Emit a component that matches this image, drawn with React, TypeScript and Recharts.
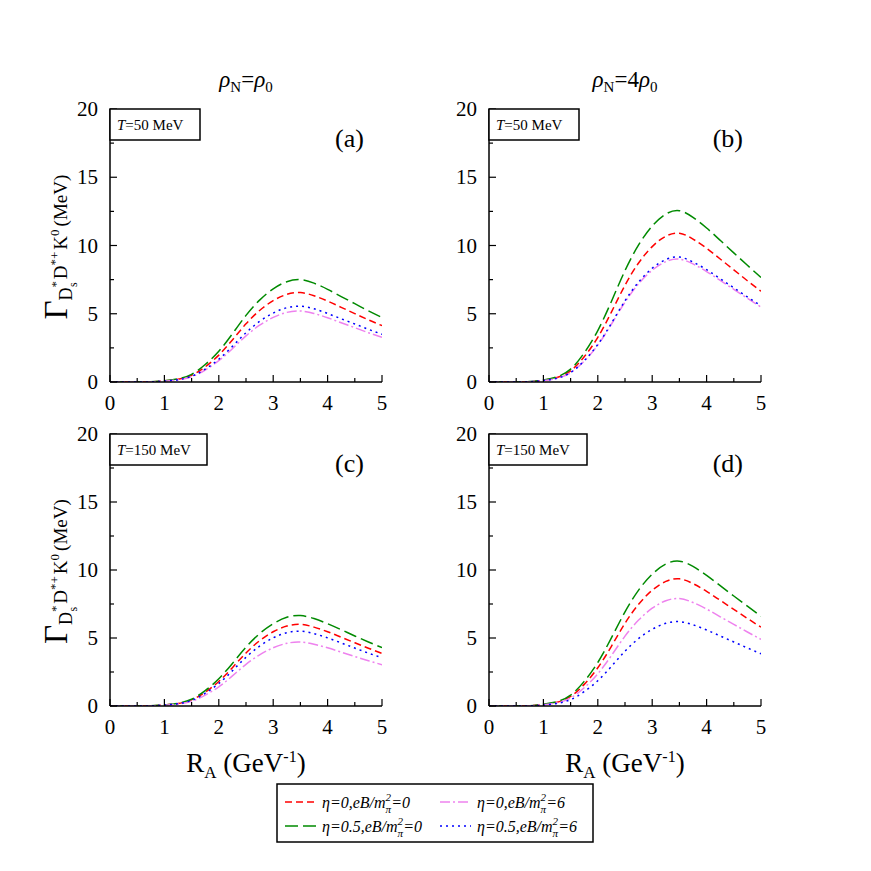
import React from 'react';
import { LineChart, Line, XAxis, YAxis } from 'recharts';

const SERIF = "'Liberation Serif', 'Times New Roman', Times, serif";

// R_A grid (GeV^-1)
const rA = [0, 0.25, 0.5, 0.75, 1, 1.25, 1.5, 1.75, 2, 2.25, 2.5, 2.75, 3, 3.25, 3.5, 3.75, 4, 4.25, 4.5, 4.75, 5];
const xTicks = [0, 0.5, 1, 1.5, 2, 2.5, 3, 3.5, 4, 4.5, 5];
const yTicks = [0, 2.5, 5, 7.5, 10, 12.5, 15, 17.5, 20];

// (a) rho_N = rho_0, T = 50 MeV
const aRed = [0, 0, 0, 0.01, 0.08, 0.2, 0.49, 1.11, 1.97, 3.08, 4.26, 5.24, 5.96, 6.42, 6.55, 6.32, 5.93, 5.47, 5.01, 4.55, 4.13];
const aGreen = [0, 0, 0, 0.02, 0.09, 0.23, 0.56, 1.28, 2.25, 3.53, 4.88, 6.0, 6.83, 7.35, 7.5, 7.24, 6.79, 6.26, 5.74, 5.21, 4.73];
const aViolet = [0, 0, 0, 0.01, 0.06, 0.16, 0.39, 0.88, 1.56, 2.44, 3.38, 4.16, 4.73, 5.1, 5.2, 5.02, 4.71, 4.34, 3.98, 3.61, 3.28];
const aBlue = [0, 0, 0, 0.01, 0.07, 0.17, 0.42, 0.94, 1.67, 2.61, 3.61, 4.44, 5.05, 5.44, 5.55, 5.36, 5.02, 4.63, 4.25, 3.86, 3.5];

// (b) rho_N = 4 rho_0, T = 50 MeV
const bRed = [0, 0, 0, 0.02, 0.13, 0.33, 0.82, 1.85, 3.27, 5.12, 7.09, 8.72, 9.92, 10.68, 10.9, 10.47, 9.8, 9.01, 8.22, 7.42, 6.65];
const bGreen = [0, 0, 0, 0.03, 0.15, 0.38, 0.94, 2.13, 3.77, 5.9, 8.16, 10.04, 11.42, 12.3, 12.55, 12.06, 11.28, 10.38, 9.46, 8.55, 7.66];
const bViolet = [0, 0, 0, 0.02, 0.11, 0.27, 0.68, 1.53, 2.7, 4.23, 5.85, 7.2, 8.19, 8.82, 9.0, 8.65, 8.09, 7.44, 6.79, 6.13, 5.49];
const bBlue = [0, 0, 0, 0.02, 0.11, 0.27, 0.69, 1.56, 2.75, 4.3, 5.95, 7.32, 8.33, 8.97, 9.15, 8.79, 8.23, 7.57, 6.9, 6.23, 5.58];

// (c) rho_N = rho_0, T = 150 MeV
const cRed = [0, 0, 0, 0.01, 0.07, 0.18, 0.45, 1.02, 1.8, 2.82, 3.9, 4.8, 5.46, 5.88, 6.0, 5.8, 5.46, 5.06, 4.65, 4.25, 3.87];
const cGreen = [0, 0, 0, 0.01, 0.08, 0.2, 0.5, 1.13, 2.0, 3.13, 4.32, 5.32, 6.05, 6.52, 6.65, 6.43, 6.05, 5.61, 5.15, 4.71, 4.29];
const cViolet = [0, 0, 0, 0.01, 0.06, 0.14, 0.35, 0.8, 1.41, 2.21, 3.06, 3.76, 4.28, 4.61, 4.7, 4.54, 4.28, 3.96, 3.64, 3.33, 3.03];
const cBlue = [0, 0, 0, 0.01, 0.07, 0.17, 0.41, 0.94, 1.65, 2.59, 3.58, 4.4, 5.01, 5.39, 5.5, 5.32, 5.01, 4.64, 4.26, 3.89, 3.55];

// (d) rho_N = 4 rho_0, T = 150 MeV
const dRed = [0, 0, 0, 0.02, 0.11, 0.28, 0.7, 1.59, 2.81, 4.39, 6.08, 7.48, 8.51, 9.16, 9.35, 9.0, 8.43, 7.77, 7.11, 6.44, 5.8];
const dGreen = [0, 0, 0, 0.02, 0.13, 0.32, 0.8, 1.81, 3.2, 5.01, 6.92, 8.52, 9.69, 10.44, 10.65, 10.26, 9.61, 8.85, 8.09, 7.34, 6.6];
const dViolet = [0, 0, 0, 0.02, 0.09, 0.24, 0.59, 1.34, 2.37, 3.71, 5.14, 6.32, 7.19, 7.74, 7.9, 7.61, 7.13, 6.56, 6.0, 5.44, 4.9];
const dBlue = [0, 0, 0, 0.01, 0.07, 0.19, 0.47, 1.05, 1.86, 2.91, 4.03, 4.96, 5.64, 6.08, 6.2, 5.97, 5.59, 5.15, 4.71, 4.27, 3.84];

const SERIES = [
  { key: 'e0b0', color: '#ff0000', dash: '7 4', eta: '0', eb: '0' },
  { key: 'e05b0', color: '#008a00', dash: '13 5', eta: '0.5', eb: '0' },
  { key: 'e0b6', color: '#ee82ee', dash: '10 3 2 3', eta: '0', eb: '6' },
  { key: 'e05b6', color: '#0000ff', dash: '2 4', eta: '0.5', eb: '6' },
];

const build = (red: number[], green: number[], violet: number[], blue: number[]) =>
  rA.map((x, i) => ({ x, e0b0: red[i], e05b0: green[i], e0b6: violet[i], e05b6: blue[i] }));

const PANELS = [
  { id: 'a', left: 110, top: 109, h: 273, temp: '50', boxW: 90, data: build(aRed, aGreen, aViolet, aBlue), ylabel: true },
  { id: 'b', left: 489, top: 109, h: 273, temp: '50', boxW: 90, data: build(bRed, bGreen, bViolet, bBlue), ylabel: false },
  { id: 'c', left: 110, top: 434, h: 272, temp: '150', boxW: 97, data: build(cRed, cGreen, cViolet, cBlue), ylabel: true },
  { id: 'd', left: 489, top: 434, h: 272, temp: '150', boxW: 98, data: build(dRed, dGreen, dViolet, dBlue), ylabel: false },
];
const PLOT_W = 272;

const serif = { fontFamily: SERIF };

const isMajor = (v: number, step: number) => Math.abs(v / step - Math.round(v / step)) < 1e-6;

const BottomTick = (props: any) => {
  const { x, y, payload } = props;
  const major = isMajor(payload.value, 1);
  return (
    <g>
      <line x1={x} y1={y} x2={x} y2={y - (major ? 7 : 4)} stroke="#000" strokeWidth={1.2} />
      {major && (
        <text x={x} y={y + 28} textAnchor="middle" fontSize={21} style={serif} fill="#000">
          {payload.value}
        </text>
      )}
    </g>
  );
};

const TopTick = (props: any) => {
  const { x, y, payload } = props;
  const major = isMajor(payload.value, 1);
  return <line x1={x} y1={y} x2={x} y2={y + (major ? 7 : 4)} stroke="#000" strokeWidth={1.2} />;
};

const LeftTick = (props: any) => {
  const { x, y, payload } = props;
  const major = isMajor(payload.value, 5);
  return (
    <g>
      <line x1={x} y1={y} x2={x + (major ? 7 : 4)} y2={y} stroke="#000" strokeWidth={1.2} />
      {major && (
        <text x={x - 12} y={y + 7} textAnchor="end" fontSize={21} style={serif} fill="#000">
          {payload.value}
        </text>
      )}
    </g>
  );
};

const RightTick = (props: any) => {
  const { x, y, payload } = props;
  const major = isMajor(payload.value, 5);
  return <line x1={x} y1={y} x2={x - (major ? 7 : 4)} y2={y} stroke="#000" strokeWidth={1.2} />;
};

const frame = { stroke: '#000', strokeWidth: 1.5 };

const Panel = ({ p }: { p: (typeof PANELS)[number] }) => {
  const mLeft = 10;
  const yW = 40;
  const mTop = 20;
  const xH = 40;
  const W = mLeft + yW + PLOT_W + 10;
  const H = mTop + p.h + xH;
  return (
    <div style={{ position: 'absolute', left: p.left - mLeft - yW, top: p.top - mTop }}>
      <LineChart width={W} height={H} data={p.data} margin={{ top: mTop, right: 10, bottom: 0, left: mLeft }}>
        <XAxis
          xAxisId="b"
          dataKey="x"
          type="number"
          domain={[0, 5]}
          ticks={xTicks}
          interval={0}
          height={xH}
          tickSize={0}
          tickMargin={0}
          tickLine={false}
          axisLine={frame}
          tick={<BottomTick />}
          allowDataOverflow
        />
        <XAxis
          xAxisId="t"
          orientation="top"
          dataKey="x"
          type="number"
          domain={[0, 5]}
          ticks={xTicks}
          interval={0}
          height={0}
          tickSize={0}
          tickMargin={0}
          tickLine={false}
          axisLine={frame}
          tick={<TopTick />}
          allowDataOverflow
        />
        <YAxis
          yAxisId="l"
          type="number"
          domain={[0, 20]}
          ticks={yTicks}
          interval={0}
          width={yW}
          tickSize={0}
          tickMargin={0}
          tickLine={false}
          axisLine={frame}
          tick={<LeftTick />}
          allowDataOverflow
        />
        <YAxis
          yAxisId="r"
          orientation="right"
          type="number"
          domain={[0, 20]}
          ticks={yTicks}
          interval={0}
          width={0}
          tickSize={0}
          tickMargin={0}
          tickLine={false}
          axisLine={frame}
          tick={<RightTick />}
          allowDataOverflow
        />
        {SERIES.map((s) => (
          <Line
            key={s.key}
            xAxisId="b"
            yAxisId="l"
            type="natural"
            dataKey={s.key}
            stroke={s.color}
            strokeWidth={1.5}
            strokeDasharray={s.dash}
            dot={false}
            activeDot={false}
            isAnimationActive={false}
          />
        ))}
      </LineChart>
    </div>
  );
};

const GammaLabel = ({ cx, cy }: { cx: number; cy: number }) => (
  <g transform={`translate(${cx}, ${cy}) rotate(-90)`}>
    <text x={-80} y={0} style={serif} fill="#000" fontSize={20}>
      <tspan fontSize={33}>Γ</tspan>
      <tspan dy={5} fontSize={18}>D</tspan>
      <tspan dy={-12} fontSize={13}>*</tspan>
      <tspan dx={-6} dy={17} fontSize={12}>s</tspan>
      <tspan dx={3} dy={-10} fontSize={19}>D</tspan>
      <tspan dy={-8} fontSize={13}>*+</tspan>
      <tspan dx={2} dy={8} fontSize={19}>K</tspan>
      <tspan dy={-8} fontSize={13}>0</tspan>
      <tspan dx={3} dy={8} fontSize={19}>(MeV)</tspan>
    </text>
  </g>
);

const Overlay = () => (
  <svg width={871} height={871} style={{ position: 'absolute', left: 0, top: 0, pointerEvents: 'none' }}>
    {/* column titles */}
    {[
      { x: 246, t: '' },
      { x: 625, t: '4' },
    ].map((c) => (
      <text key={c.x} x={c.x} y={87} textAnchor="middle" style={serif} fontSize={23} fill="#000">
        <tspan fontStyle="italic">ρ</tspan>
        <tspan dy={5} fontSize={15}>N</tspan>
        <tspan dy={-5}>={c.t}</tspan>
        <tspan fontStyle="italic">ρ</tspan>
        <tspan dy={5} fontSize={15}>0</tspan>
      </text>
    ))}

    {PANELS.map((p) => (
      <g key={p.id}>
        <rect x={p.left} y={p.top} width={p.boxW} height={31} fill="#fff" stroke="#000" strokeWidth={1.5} />
        <text x={p.left + 7} y={p.top + 21} style={serif} fontSize={15} fill="#000">
          <tspan fontStyle="italic">T</tspan>={p.temp} MeV
        </text>
        <text x={p.left + PLOT_W - 18} y={p.top + 38} textAnchor="end" style={serif} fontSize={26} fill="#000">
          ({p.id})
        </text>
        {p.ylabel && <GammaLabel cx={67} cy={p.top + p.h / 2 - 6} />}
        {(p.id === 'c' || p.id === 'd') && (
          <text x={p.left + PLOT_W / 2} y={p.top + p.h + 66} textAnchor="middle" style={serif} fontSize={27} fill="#000">
            R<tspan dy={6} fontSize={17}>A</tspan>
            <tspan dy={-6}> (GeV</tspan>
            <tspan dy={-10} fontSize={16}>-1</tspan>
            <tspan dy={10}>)</tspan>
          </text>
        )}
      </g>
    ))}

    {/* legend */}
    <rect x={277} y={784} width={316} height={58} fill="#fff" stroke="#000" strokeWidth={1.5} />
    {SERIES.map((s, i) => {
      const col = i === 0 || i === 1 ? 0 : 1;
      const row = i === 0 || i === 2 ? 0 : 1;
      const lx = col === 0 ? 285 : 440;
      const ly = row === 0 ? 802 : 826;
      return (
        <g key={s.key}>
          <line x1={lx} y1={ly} x2={lx + 31} y2={ly} stroke={s.color} strokeWidth={1.5} strokeDasharray={s.dash} />
          <text x={lx + 37} y={ly + 6} style={serif} fontStyle="italic" fontSize={16} fill="#000">
            η={s.eta},eB/m
            <tspan dy={-7} fontSize={11}>2</tspan>
            <tspan dx={-5.5} dy={12} fontSize={11}>π</tspan>
            <tspan dy={-5}>={s.eb}</tspan>
          </text>
        </g>
      );
    })}
  </svg>
);

export default function App() {
  return (
    <div style={{ position: 'absolute', left: 0, top: 0, width: 871, height: 871, background: '#fff' }}>
      {PANELS.map((p) => (
        <Panel key={p.id} p={p} />
      ))}
      <Overlay />
    </div>
  );
}
